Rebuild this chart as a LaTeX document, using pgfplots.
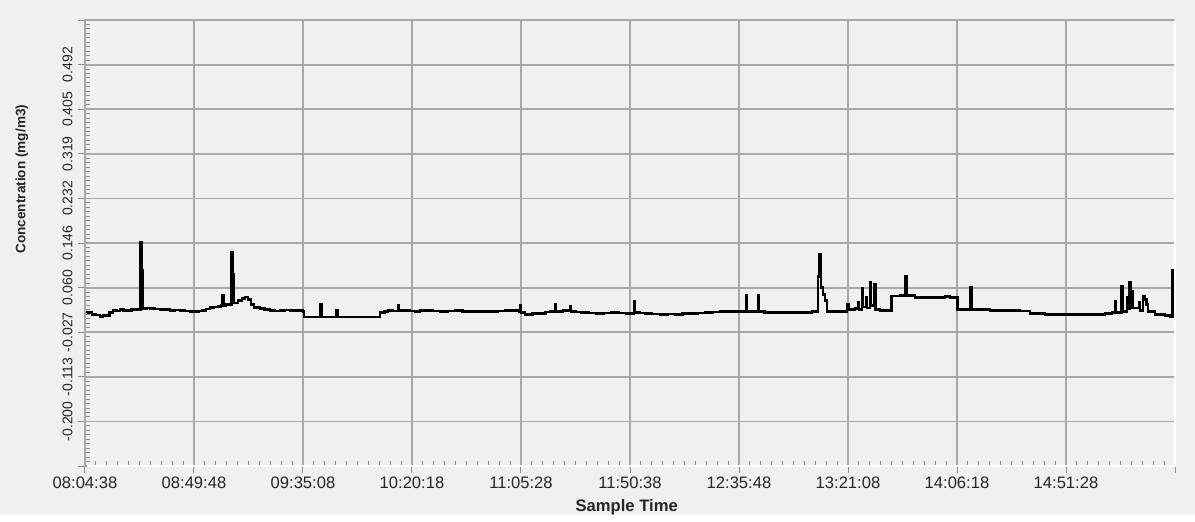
\documentclass[border=0pt]{standalone}
\usepackage{fontspec}
\setmainfont{Liberation Sans}
\usepackage{pgfplots}
\pgfplotsset{compat=1.18}
\usepackage{pgfplotstable}
\definecolor{bg}{HTML}{F0F0F0}
\definecolor{gridc}{HTML}{A8A8A8}
\definecolor{tickc}{HTML}{8C8C8C}
\definecolor{txt}{HTML}{262626}

% seconds after 08:04:38, concentration (mg/m3)
\pgfplotstableread{
s v
0 0.0123
90 0.0110
174 0.0078
260 0.0060
373 0.0029
450 0.0050
522 0.0058
610 0.0110
696 0.0156
780 0.0140
870 0.0165
960 0.0150
1069 0.0146
1150 0.0170
1243 0.0175
1310 0.0160
1385 0.1480
1412 0.0940
1442 0.0185
1530 0.0200
1616 0.0194
1740 0.0180
1865 0.0175
1990 0.0165
2113 0.0146
2240 0.0160
2362 0.0156
2480 0.0140
2610 0.0136
2735 0.0127
2820 0.0145
2909 0.0156
3010 0.0180
3108 0.0204
3200 0.0220
3307 0.0233
3380 0.0253
3420 0.0447
3443 0.0250
3500 0.0265
3555 0.0272
3642 0.1288
3674 0.0855
3704 0.0300
3804 0.0340
3903 0.0389
3978 0.0414
4052 0.0360
4127 0.0272
4201 0.0214
4351 0.0185
4470 0.0165
4599 0.0156
4720 0.0140
4848 0.0146
4970 0.0160
5097 0.0156
5220 0.0150
5345 0.0146
5420 0.0136
5444 0.0025
5855 0.0272
5880 0.0025
6252 0.0156
6277 0.0025
7334 0.0111
7450 0.0130
7533 0.0146
7650 0.0140
7781 0.0253
7806 0.0146
7955 0.0156
8080 0.0140
8204 0.0136
8330 0.0150
8452 0.0156
8640 0.0140
8825 0.0127
9010 0.0140
9198 0.0146
9380 0.0135
9571 0.0127
9820 0.0130
10068 0.0136
10250 0.0145
10441 0.0146
10789 0.0136
10814 0.0253
10839 0.0117
10938 0.0078
11120 0.0090
11311 0.0097
11450 0.0120
11560 0.0136
11684 0.0272
11709 0.0136
11883 0.0156
12057 0.0233
12082 0.0136
12200 0.0125
12329 0.0117
12520 0.0105
12703 0.0097
12890 0.0105
13076 0.0107
13260 0.0100
13449 0.0097
13648 0.0336
13672 0.0107
13800 0.0100
13922 0.0097
14100 0.0085
14295 0.0078
14480 0.0080
14668 0.0078
14850 0.0088
15041 0.0097
15230 0.0105
15414 0.0117
15600 0.0125
15787 0.0136
15970 0.0130
16159 0.0136
16433 0.0447
16458 0.0136
16582 0.0127
16731 0.0447
16756 0.0127
16890 0.0115
17030 0.0107
17220 0.0112
17402 0.0117
17590 0.0110
17775 0.0107
17930 0.0118
18074 0.0127
18223 0.0816
18260 0.1243
18298 0.0602
18347 0.0466
18397 0.0350
18447 0.0136
18646 0.0136
18894 0.0136
18944 0.0272
18994 0.0175
19143 0.0185
19217 0.0310
19242 0.0175
19317 0.0583
19342 0.0220
19416 0.0400
19441 0.0200
19516 0.0705
19541 0.0250
19628 0.0660
19653 0.0175
19764 0.0156
19963 0.0146
20056 0.0433
20262 0.0447
20399 0.0810
20424 0.0447
20634 0.0408
20883 0.0398
21132 0.0408
21381 0.0418
21505 0.0408
21691 0.0175
22015 0.0602
22040 0.0175
22250 0.0170
22499 0.0156
22747 0.0155
22996 0.0146
23245 0.0145
23493 0.0088
23866 0.0068
24240 0.0078
24613 0.0078
24986 0.0070
25359 0.0088
25533 0.0117
25607 0.0336
25632 0.0117
25769 0.0628
25794 0.0136
25905 0.0400
25930 0.0180
25967 0.0705
26005 0.0520
26042 0.0200
26129 0.0200
26204 0.0317
26229 0.0150
26303 0.0433
26341 0.0360
26390 0.0270
26427 0.0136
26601 0.0078
26850 0.0049
26974 0.0039
27036 0.0938
27061 0.0602
27090 0.0039
27100 0.0039
}\conc

\begin{document}
\begin{tikzpicture}
\fill[bg] (-42.5pt,-24.5pt) rectangle (555pt,233pt);
\begin{axis}[
    name=ax,
    scale only axis,
    width=545pt, height=223pt,
    xmin=0, xmax=27100,
    ymin=-0.2865, ymax=0.5785,
    scaled x ticks=false,
    xtick={0,2710,5420,8130,10840,13550,16260,18970,21680,24390,27100},
    xticklabels={08:04:38,08:49:48,09:35:08,10:20:18,11:05:28,11:50:38,12:35:48,13:21:08,14:06:18,14:51:28,},
    ytick={-0.2865,-0.2,-0.1135,-0.027,0.0595,0.146,0.2325,0.319,0.4055,0.492,0.5785},
    yticklabels={,-0.200,-0.113,-0.027,0.060,0.146,0.232,0.319,0.405,0.492,},
    minor x tick num=9,
    minor y tick num=9,
    xtick pos=lower, ytick pos=left,
    tick align=inside,
    major tick length=3.25pt,
    minor tick length=2.5pt,
    every major y tick/.style={xshift=-3.25pt},
    every major x tick/.style={yshift=-3.25pt},
    tick style={tickc, line width=0.5pt},
    grid=major,
    major grid style={gridc, line width=0.9pt},
    axis line style={draw=none},
    axis background/.style={fill=bg},
    xticklabel style={font=\fontsize{8.3}{10}\selectfont, text=txt, inner sep=0pt, anchor=north},
    xticklabel shift=5.5pt,
    yticklabel style={font=\fontsize{7}{8.4}\selectfont, text=txt, inner sep=0pt, rotate=90, anchor=south},
    yticklabel shift=6pt,
    xlabel={\bfseries Sample Time},
    ylabel={\bfseries Concentration (mg/m3)},
    every axis x label/.style={at={([yshift=-20.5pt]axis description cs:0.497,0)}, anchor=center, font=\fontsize{8.3}{10}\selectfont, text=txt},
    every axis y label/.style={at={([xshift=-31.5pt]axis description cs:0,0.643)}, anchor=center, rotate=90, font=\fontsize{6.8}{8}\selectfont, text=txt},
]
\addplot[const plot mark left, black, line width=1.3pt] table[x=s, y=v] {\conc};
\end{axis}
\draw[gridc, line width=0.9pt] (ax.south west) -- (ax.north west) -- (ax.north east);
\draw[white, line width=0.7pt] ([xshift=1pt]ax.south west) -- (ax.south east) -- (ax.north east);
\end{tikzpicture}
\end{document}
